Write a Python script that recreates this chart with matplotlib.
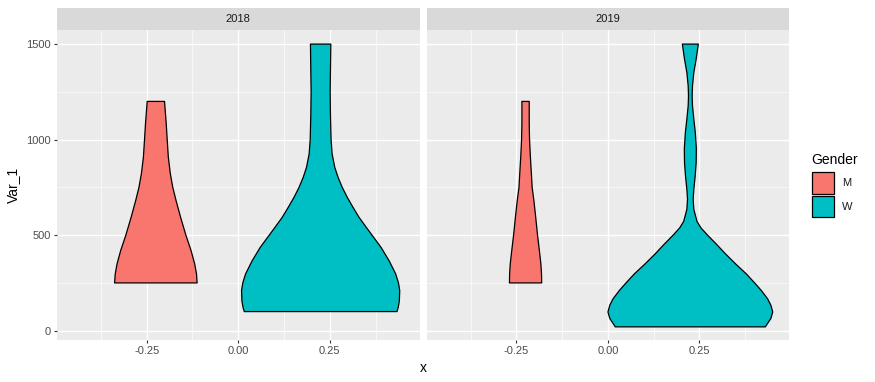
import matplotlib
matplotlib.use("Agg")
import matplotlib.pyplot as plt
from matplotlib.patches import Rectangle
from matplotlib.ticker import MultipleLocator

plt.rcParams["font.family"] = ["Liberation Sans", "DejaVu Sans"]

years = ["2018", "2019"]
genders = ["M", "W"]
fill_colors = ["#F8766D", "#00BFC4"]
x_ticks = [-0.25, 0.0, 0.25]
x_tick_labels = ["-0.25", "0.00", "0.25"]
y_ticks = [0, 500, 1000, 1500]

# violin outlines: Var_1 level and half width (x units)
m2018_y = [250, 297, 350, 420, 500, 594, 682, 750, 822, 909, 1000, 1084, 1200]
m2018_w = [0.1127, 0.111, 0.106, 0.096, 0.082, 0.0675, 0.055, 0.0462, 0.0395,
           0.034, 0.031, 0.0283, 0.0237]

w2018_y = [100, 122, 156, 210, 250, 297, 366, 436, 488, 540, 593, 645, 698,
           750, 802, 855, 925, 1000, 1125, 1250, 1369, 1500]
w2018_w = [0.2085, 0.212, 0.215, 0.216, 0.2126, 0.205, 0.187, 0.165, 0.145,
           0.125, 0.105, 0.0886, 0.0727, 0.059, 0.0477, 0.0386, 0.0314,
           0.0285, 0.0269, 0.026, 0.0269, 0.0278]

m2019_y = [250, 297, 350, 420, 500, 594, 682, 750, 822, 909, 1000, 1084, 1200]
m2019_w = [0.044, 0.0436, 0.0418, 0.0377, 0.0327, 0.0277, 0.0227, 0.018,
           0.0159, 0.0132, 0.0109, 0.010, 0.010]

w2019_y = [20, 38, 64, 98, 133, 167, 210, 250, 297, 348, 400, 452, 500, 538,
           572, 635, 687, 740, 809, 879, 953, 1037, 1107, 1177, 1229, 1281,
           1351, 1421, 1500]
w2019_w = [0.205, 0.211, 0.22, 0.225, 0.22, 0.211, 0.194, 0.1756, 0.153,
           0.1245, 0.097, 0.0716, 0.047, 0.029, 0.0182, 0.0095, 0.0077,
           0.0095, 0.0132, 0.0159, 0.0164, 0.0136, 0.0095, 0.0059, 0.005,
           0.0059, 0.0095, 0.0159, 0.0218]

violins = {
    ("2018", "M"): (m2018_y, m2018_w),
    ("2018", "W"): (w2018_y, w2018_w),
    ("2019", "M"): (m2019_y, m2019_w),
    ("2019", "W"): (w2019_y, w2019_w),
}

W, H = 875, 382
dodge = 0.9


def fx(px):
    return px / W


def fy(py):
    return 1 - py / H


fig = plt.figure(figsize=(W / 100, H / 100), dpi=100)
panel_lefts = [57, 426.7]
panel_w = 362.5
panel_top, panel_bottom = 30, 340

for p, year in enumerate(years):
    left = panel_lefts[p]
    ax = fig.add_axes([fx(left), fy(panel_bottom), fx(panel_w),
                       (panel_bottom - panel_top) / H])
    ax.set_facecolor("#EBEBEB")
    for s in ax.spines.values():
        s.set_visible(False)
    ax.set_xlim(-0.495, 0.495)
    ax.set_ylim(-48.75, 1573.75)
    ax.set_xticks(x_ticks)
    ax.set_xticklabels(x_tick_labels)
    ax.set_yticks(y_ticks)
    ax.xaxis.set_minor_locator(MultipleLocator(0.125))
    ax.yaxis.set_minor_locator(MultipleLocator(250))
    ax.grid(which="major", color="white", lw=0.95)
    ax.grid(which="minor", color="white", lw=0.45)
    ax.set_axisbelow(True)
    ax.tick_params(which="minor", length=0)
    ax.tick_params(which="major", length=2.5, width=0.8, color="#333333",
                   labelsize=8, labelcolor="#4D4D4D", pad=2)
    if p > 0:
        ax.tick_params(axis="y", which="both", left=False, labelleft=False)

    for g, gender in enumerate(genders):
        c = (g - 0.5) * dodge / 2
        ys, ws = violins[(year, gender)]
        xs = [c - w for w in ws] + [c + w for w in reversed(ws)]
        yy = list(ys) + list(reversed(ys))
        ax.fill(xs, yy, facecolor=fill_colors[g], edgecolor="black", lw=0.9,
                joinstyle="round", zorder=3)

    sax = fig.add_axes([fx(left), fy(panel_top), fx(panel_w), 22 / H])
    sax.set_facecolor("#D9D9D9")
    sax.set_xticks([])
    sax.set_yticks([])
    for s in sax.spines.values():
        s.set_visible(False)
    sax.text(0.5, 0.5, year, ha="center", va="center", fontsize=8,
             color="#1A1A1A", transform=sax.transAxes)

fig.text(fx(423), fy(368), "x", ha="center", va="center", fontsize=10)
fig.text(fx(12.5), fy(185), "Var_1", ha="center", va="center", fontsize=10,
         rotation=90)

# legend
fig.text(fx(811.7), fy(160), "Gender", ha="left", va="center", fontsize=10)
key_tops = [172.3, 195.5]
for g, gender in enumerate(genders):
    top = key_tops[g]
    fig.patches.append(Rectangle((fx(811.7), fy(top + 21.7)), fx(22.3), 21.7 / H,
                                 transform=fig.transFigure,
                                 facecolor=fill_colors[g], edgecolor="black",
                                 lw=0.9))
    fig.text(fx(841.7), fy(top + 11), gender, ha="left", va="center",
             fontsize=8, color="#1A1A1A")

fig.savefig("out.png", dpi=100)
